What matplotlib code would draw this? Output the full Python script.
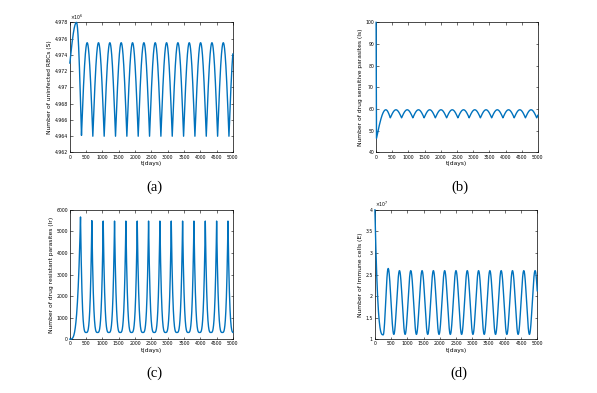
import numpy as np
import matplotlib
matplotlib.use('Agg')
import matplotlib.pyplot as plt
from matplotlib.ticker import FuncFormatter

# values: times (days) of turning points and values there
# (a) uninfected RBCs, in units of 1e6
s_t = [0, 204, 357, 531, 705, 879, 1053, 1227, 1401, 1575, 1749, 1923, 2097, 2271, 2445,
       2619, 2793, 2967, 3141, 3315, 3489, 3663, 3837, 4011, 4185, 4359, 4533, 4707, 4881, 5055]
s_v = [4.9730, 4.9780, 4.9641, 4.9755, 4.9640, 4.9755, 4.9640, 4.9755, 4.9640, 4.9755, 4.9640,
       4.9755, 4.9640, 4.9755, 4.9640, 4.9755, 4.9640, 4.9755, 4.9640, 4.9755, 4.9640, 4.9755,
       4.9640, 4.9755, 4.9640, 4.9755, 4.9640, 4.9755, 4.9640, 4.9755]

# (b) drug sensitive parasites
b_t = [0, 12, 300, 439, 613, 787, 961, 1135, 1309, 1483, 1657, 1831, 2005, 2179, 2353, 2527,
       2701, 2875, 3049, 3223, 3397, 3571, 3745, 3919, 4093, 4267, 4441, 4615, 4789, 4963, 5137]
b_v = [100, 46.5, 59.7, 56.0, 59.7, 56.0, 59.7, 56.0, 59.7, 56.0, 59.7, 56.0, 59.7, 56.0, 59.7,
       56.0, 59.7, 56.0, 59.7, 56.0, 59.7, 56.0, 59.7, 56.0, 59.7, 56.0, 59.7, 56.0, 59.7, 56.0, 59.7]

# (c) drug resistant parasites
r_t = [0, 327, 501, 675, 849, 1023, 1197, 1371, 1545, 1719, 1893, 2067, 2241, 2415, 2589, 2763,
       2937, 3111, 3285, 3459, 3633, 3807, 3981, 4155, 4329, 4503, 4677, 4851, 5025]
r_v = [0, 5670, 310, 5500, 310, 5480, 310, 5480, 310, 5480, 310, 5480, 310, 5480, 310, 5480,
       310, 5480, 310, 5480, 310, 5480, 310, 5480, 310, 5480, 310, 5480, 310]

# (d) immune cells, in units of 1e7
e_t = [0, 255, 408, 582, 756, 930, 1104, 1278, 1452, 1626, 1800, 1974, 2148, 2322, 2496, 2670,
       2844, 3018, 3192, 3366, 3540, 3714, 3888, 4062, 4236, 4410, 4584, 4758, 4932, 5106]
e_v = [4.0, 1.10, 2.64, 1.11, 2.59, 1.11, 2.59, 1.11, 2.59, 1.11, 2.59, 1.11, 2.59, 1.11, 2.59,
       1.11, 2.59, 1.11, 2.59, 1.11, 2.59, 1.11, 2.59, 1.11, 2.59, 1.11, 2.59, 1.11, 2.59, 1.11]

x_ticks = list(range(0, 5001, 500))
blue = '#0072BD'


def ease_cusp(u):
    return np.sin(np.pi * u / 2)


def ease_spike(u):
    return u ** 3.5


def ease_wave(u):
    return (1 - np.cos(np.pi * u)) / 2


def ease_lin(u):
    return u


def ease_drop(u):
    return u ** 3


def build(kt, kv, ease, first=None):
    ts, vs = [], []
    for i in range(len(kt) - 1):
        f = first if (i == 0 and first is not None) else ease
        t = np.linspace(kt[i], kt[i + 1], 80)
        u = (t - kt[i]) / (kt[i + 1] - kt[i])
        a, b = kv[i], kv[i + 1]
        if b >= a:
            v = a + (b - a) * f(u)
        else:
            v = b + (a - b) * f(1 - u)
        ts.append(t)
        vs.append(v)
    t = np.concatenate(ts)
    v = np.concatenate(vs)
    keep = t <= 5000
    return t[keep], v[keep]


fig = plt.figure(figsize=(5.97, 3.93), dpi=100)

panels = [
    ([0.117, 0.612, 0.273, 0.331], s_t, s_v, ease_cusp, None, 'Number of uninfected RBCs (S)',
     (4.962, 4.978), np.arange(4.962, 4.9781, 0.002), r'$\times10^{6}$', '(a)'),
    ([0.630, 0.612, 0.271, 0.331], b_t, b_v, ease_cusp, ease_lin, 'Number of drug sensitive parasites (Is)',
     (40, 100), np.arange(40, 101, 10), None, '(b)'),
    ([0.117, 0.137, 0.273, 0.329], r_t, r_v, ease_spike, ease_spike, 'Number of drug resistant parasites (Ir)',
     (0, 6000), np.arange(0, 6001, 1000), None, '(c)'),
    ([0.628, 0.137, 0.272, 0.329], e_t, e_v, ease_wave, ease_drop, 'Number of Immune cells (E)',
     (1, 4), np.arange(1, 4.01, 0.5), r'$\times10^{7}$', '(d)'),
]

for rect, kt, kv, ease, first, ylab, ylim, yt, expo, tag in panels:
    ax = fig.add_axes(rect)
    t, v = build(kt, kv, ease, first)
    ax.plot(t, v, color=blue, lw=1.0, zorder=3, clip_on=False)
    ax.set_xlim(0, 5000)
    ax.set_ylim(*ylim)
    ax.set_xticks(x_ticks)
    ax.set_yticks(yt)
    ax.yaxis.set_major_formatter(FuncFormatter(lambda x, p: ('%.3f' % x).rstrip('0').rstrip('.')))
    ax.tick_params(direction='in', length=1.8, width=0.4, labelsize=3.3, pad=1.5,
                   top=True, right=True)
    for sp in ax.spines.values():
        sp.set_linewidth(0.5)
    ax.set_ylabel(ylab, fontsize=4.3, labelpad=1.5)
    ax.set_xlabel('t(days)', fontsize=4.3, labelpad=1.0)
    if expo:
        ax.text(0.0, 1.005, expo, transform=ax.transAxes, fontsize=3.3, ha='left', va='bottom')
    cx = rect[0] + rect[2] / 2 + 0.005
    fig.text(cx, rect[1] - 0.088, tag, fontsize=10.5, family='Liberation Serif',
             ha='center', va='center')

fig.savefig('out.png', dpi=100)
